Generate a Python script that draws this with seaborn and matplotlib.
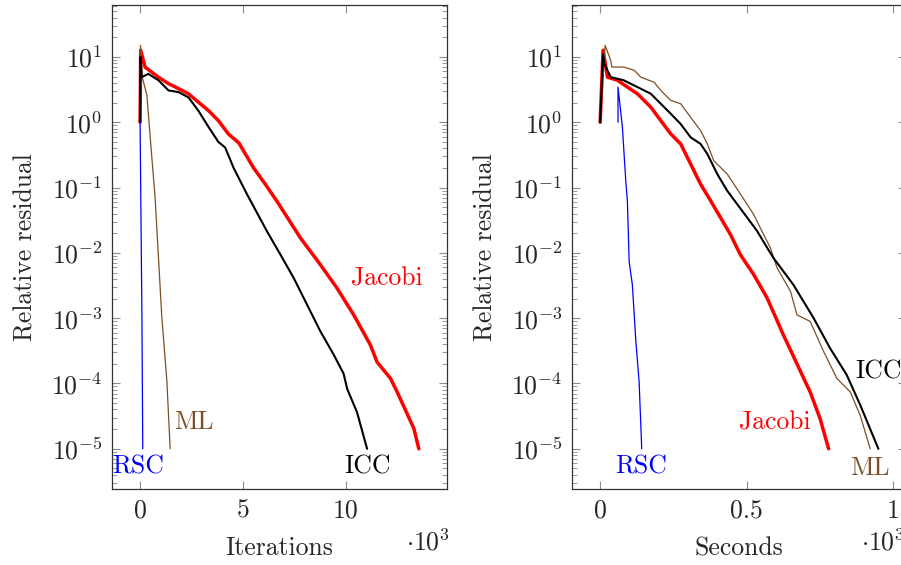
"""
Relative residual vs iterations / seconds for four preconditioners
"""

import numpy as np
import pandas as pd
import matplotlib
matplotlib.use('Agg')
import matplotlib.pyplot as plt
import matplotlib.ticker as mticker
import seaborn as sns

# ========== DATA ==========
# left panel: iterations (x 10^3)
rsc_it_x = [0, 0.03, 0.06, 0.09, 0.13]
rsc_it_y = [1, 1e-1, 1e-2, 1e-3, 1e-5]

ml_it_x = [0, 0.02, 0.1, 0.33, 0.57, 0.73, 1.05, 1.3, 1.46]
ml_it_y = [1, 15, 5, 2.6, 0.29, 0.07, 1.1e-3, 1.1e-4, 1e-5]

icc_it_x = [0, 0.02, 0.08, 0.4, 0.89, 1.38, 1.86, 2.35, 2.83, 3.33, 3.8, 4.13, 4.54,
            5.19, 6.16, 6.8, 7.45, 8.1, 8.75, 9.4, 9.88, 10.05, 10.53, 11.02]
icc_it_y = [1, 10, 4.9, 5.5, 4.4, 3.07, 2.9, 2.4, 1.5, 0.84, 0.5, 0.41, 0.2,
            0.079, 10**-1.67, 10**-2.02, 10**-2.38, 10**-2.79, 10**-3.2, 10**-3.56,
            10**-3.85, 10**-4.08, 10**-4.44, 1e-5]

jac_it_x = [0, 0.03, 0.24, 0.89, 1.38, 1.87, 2.35, 2.83, 3.33, 3.8, 4.29, 4.8, 5.51,
            6.1, 6.64, 7.78, 8.75, 9.56, 10.37, 11.18, 11.5, 12.15, 12.48, 13.29, 13.53]
jac_it_y = [1, 12.7, 7, 4.9, 3.9, 3.27, 2.73, 2.03, 1.5, 1.06, 0.66, 0.48, 0.2,
            0.11, 0.062, 10**-1.77, 10**-2.18, 10**-2.54, 10**-2.95, 10**-3.41,
            10**-3.67, 10**-3.92, 10**-4.13, 10**-4.69, 1e-5]

# right panel: seconds (x 10^3)
rsc_s_x = [0.061, 0.061, 0.076, 0.0875, 0.093, 0.099, 0.11, 0.122, 0.133, 0.142]
rsc_s_y = [1, 3.46, 0.84, 10**-0.9, 10**-1.2, 10**-2.13, 10**-2.49, 10**-3.36,
           10**-3.97, 1e-5]

ml_s_x = [0, 0.017, 0.036, 0.04, 0.08, 0.116, 0.139, 0.184, 0.207, 0.241, 0.275,
          0.309, 0.343, 0.366, 0.388, 0.434, 0.479, 0.524, 0.558, 0.581, 0.604, 0.65,
          0.672, 0.717, 0.763, 0.808, 0.854, 0.888, 0.922]
ml_s_y = [1, 15, 8.9, 7, 7, 6.25, 4.9, 4.1, 3.07, 2.16, 1.92, 1.19, 10**-0.128,
          10**-0.332, 10**-0.589, 10**-0.794, 10**-1.10, 10**-1.41, 10**-1.72,
          10**-1.92, 10**-2.23, 10**-2.59, 10**-2.95, 10**-3.05, 10**-3.51,
          10**-3.92, 10**-4.13, 10**-4.49, 1e-5]

icc_s_x = [0, 0.01, 0.014, 0.036, 0.08, 0.127, 0.173, 0.207, 0.241, 0.275, 0.309,
           0.343, 0.366, 0.40, 0.434, 0.468, 0.502, 0.536, 0.57, 0.592, 0.66, 0.729,
           0.785, 0.842, 0.888, 0.95]
icc_s_y = [1, 11, 7.9, 4.9, 4.4, 3.46, 2.73, 1.92, 1.35, 0.94, 10**-0.231,
           10**-0.332, 10**-0.486, 10**-0.794, 10**-1.05, 10**-1.255, 10**-1.46,
           10**-1.666, 10**-1.92, 10**-2.08, 10**-2.49, 10**-3.0, 10**-3.46,
           10**-3.87, 10**-4.33, 1e-5]

jac_s_x = [0, 0.01, 0.025, 0.059, 0.093, 0.127, 0.139, 0.173, 0.207, 0.241, 0.275,
           0.309, 0.343, 0.377, 0.411, 0.445, 0.479, 0.524, 0.57, 0.626, 0.695,
           0.717, 0.751, 0.78]
jac_s_y = [1, 12.7, 4.9, 4.4, 3.46, 2.73, 2.42, 1.7, 1.06, 10**-0.178, 10**-0.332,
           10**-0.64, 10**-0.948, 10**-1.2, 10**-1.46, 10**-1.72, 10**-2.03,
           10**-2.33, 10**-2.69, 10**-3.26, 10**-3.92, 10**-4.13, 10**-4.54, 1e-5]

# ========== STYLE ==========
sns.set_style('ticks')
plt.rcParams['font.family'] = ['cmr10', 'DejaVu Serif']
plt.rcParams['mathtext.fontset'] = 'cm'
plt.rcParams['axes.formatter.use_mathtext'] = True
FS = 18.5
plt.rcParams['font.size'] = FS

colors = {'RSC': '#0000ff', 'ML': '#7f4f24', 'ICC': '#000000', 'Jacobi': '#ff0000'}
widths = {'RSC': 0.9, 'ML': 0.9, 'ICC': 1.5, 'Jacobi': 2.5}

fig = plt.figure(figsize=(9.01, 5.65), dpi=100)
ax1 = fig.add_axes([0.1246, 0.134, 0.3711, 0.8577])
ax2 = fig.add_axes([0.6352, 0.134, 0.3706, 0.8577])

panels = [
    (ax1, {'RSC': (rsc_it_x, rsc_it_y), 'ML': (ml_it_x, ml_it_y),
           'ICC': (icc_it_x, icc_it_y), 'Jacobi': (jac_it_x, jac_it_y)},
     'Iterations', (-1.35, 14.88), [0, 5, 10], 0.944),
    (ax2, {'RSC': (rsc_s_x, rsc_s_y), 'ML': (ml_s_x, ml_s_y),
           'ICC': (icc_s_x, icc_s_y), 'Jacobi': (jac_s_x, jac_s_y)},
     'Seconds', (-0.095, 1.045), [0, 0.5, 1], 0.93),
]

for ax, curves, xlab, xlim, xticks, mult_x in panels:
    for name in ['Jacobi', 'ML', 'ICC', 'RSC']:
        xs, ys = curves[name]
        df = pd.DataFrame({'x': xs, 'y': ys})
        sns.lineplot(data=df, x='x', y='y', ax=ax, color=colors[name],
                     linewidth=widths[name], sort=False, estimator=None)
    ax.set_yscale('log')
    ax.set_ylim(10**-5.62, 10**1.8)
    ax.set_xlim(*xlim)
    ax.set_xticks(xticks)
    ax.set_xticklabels([f'{t:g}' for t in xticks])
    ax.set_yticks([10.0**k for k in range(-5, 2)])
    ax.yaxis.set_minor_locator(mticker.LogLocator(base=10, subs=np.arange(2, 10), numticks=20))
    ax.yaxis.set_minor_formatter(mticker.NullFormatter())
    ax.tick_params(which='both', direction='in', top=True, right=True,
                   color='#8c8c8c', labelsize=FS, pad=7)
    ax.tick_params(which='major', length=6, width=0.8)
    ax.tick_params(which='minor', length=3.5, width=0.6)
    for sp in ax.spines.values():
        sp.set_color('#333333')
        sp.set_linewidth(0.9)
    ax.set_xlabel(xlab, fontsize=FS, labelpad=10)
    ax.set_ylabel('Relative residual', fontsize=FS, labelpad=10)
    ax.text(mult_x, -0.11, r'$\cdot 10^3$', transform=ax.transAxes, fontsize=FS,
            ha='center', va='center')

# curve labels
ax1.text(-0.1, 10**-5.28, 'RSC', color=colors['RSC'], ha='center', va='center')
ax1.text(2.6, 10**-4.59, 'ML', color=colors['ML'], ha='center', va='center')
ax1.text(11.05, 10**-5.28, 'ICC', color=colors['ICC'], ha='center', va='center')
ax1.text(12.0, 10**-2.39, 'Jacobi', color=colors['Jacobi'], ha='center', va='center')

ax2.text(0.139, 10**-5.28, 'RSC', color=colors['RSC'], ha='center', va='center')
ax2.text(0.597, 10**-4.6, 'Jacobi', color=colors['Jacobi'], ha='center', va='center')
ax2.text(0.92, 10**-5.29, 'ML', color=colors['ML'], ha='center', va='center')
ax2.text(0.872, 10**-3.82, 'ICC', color=colors['ICC'], ha='left', va='center')

plt.savefig('out.png', dpi=100)
